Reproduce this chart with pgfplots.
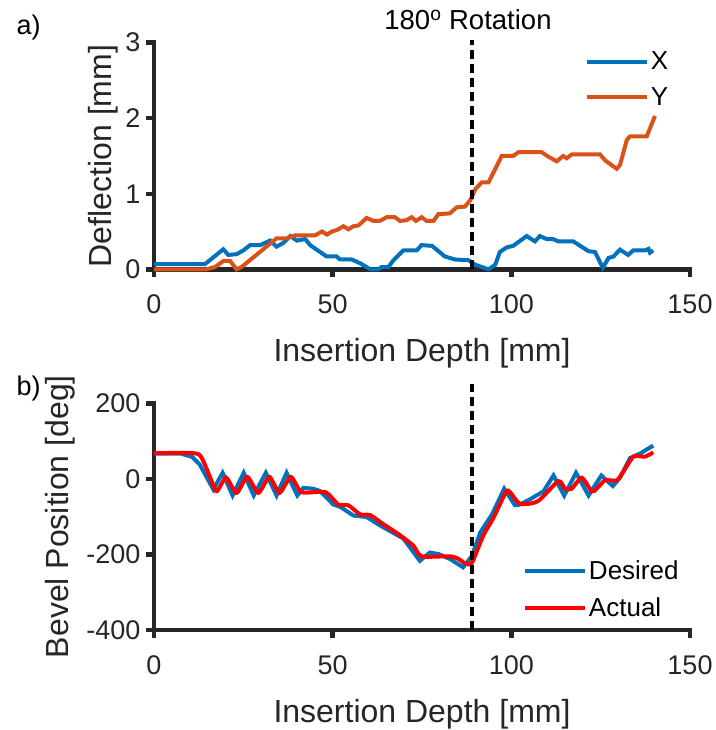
\documentclass[border=0pt]{standalone}
\usepackage{pgfplots}
\pgfplotsset{compat=1.18}
\usepackage{fontspec}
\setmainfont{Liberation Sans}
\definecolor{axgray}{RGB}{38,38,38}
\definecolor{mblue}{RGB}{0,114,189}
\definecolor{morange}{RGB}{217,83,25}
\definecolor{mred}{RGB}{255,0,0}
\pgfplotsset{
  myaxis/.style={
    anchor=south west, scale only axis, width=536pt,
    xmin=0, xmax=150, xtick={0,50,100,150},
    axis x line=bottom, axis y line=left,
    axis line style={-, line width=4.5pt, color=axgray, line cap=rect},
    tick align=outside, major tick length=8pt,
    every tick/.style={line width=4.5pt, color=axgray},
    tick label style={font=\fontsize{27}{32}\selectfont, text=axgray},
    xticklabel style={yshift=-14pt},
    yticklabel style={xshift=-2pt},
    /pgf/number format/assume math mode=true,
    label style={font=\fontsize{32}{38}\selectfont, text=axgray},
    clip=false,
    legend cell align=left,
    legend image code/.code={\draw[#1] (0pt,0pt) -- (60pt,0pt);},
    legend style={draw=none, fill=none, inner sep=0pt, outer sep=0pt,
      font=\fontsize{26}{30}\selectfont, row sep=12pt,
      nodes={inner sep=2pt}},
  }
}
\begin{document}
\begin{tikzpicture}
\useasboundingbox (0,0) rectangle (715pt,730pt);
% ---------- top axis ----------
\begin{axis}[myaxis, at={(154pt,460.7pt)}, height=226.6pt,
  ymin=0, ymax=3, ytick={0,1,2,3},
  xlabel={Insertion Depth [mm]}, ylabel={Deflection [mm]},
  xlabel style={at={(axis description cs:0.5,-0.406)}, anchor=base},
  ylabel style={at={(axis description cs:-0.0789,0.5)}, anchor=base, rotate=0},
  legend style={at={(axis description cs:0.804,0.968)}, anchor=north west},
]
\addplot[color=mblue, line width=4pt] coordinates {
(0,0.07)(14.3,0.07)(19.4,0.265)(20.8,0.19)(23.1,0.2)(25,0.25)(26.9,0.32)(29.7,0.32)(32.5,0.38)(34.3,0.3)(36.2,0.35)(38.1,0.44)(40,0.38)(42.3,0.40)(43.7,0.32)(48.3,0.17)(51.1,0.17)(52,0.13)(55.3,0.13)(57.7,0.08)(60.5,0)(62.8,0)(63.7,0.03)(65.6,0.03)(67,0.12)(69.8,0.25)(73.5,0.25)(74.9,0.32)(77.8,0.31)(81.4,0.17)(84.2,0.13)(88,0.12)(89.9,0.06)(93.6,0)(95.5,0.06)(96.8,0.23)(98.7,0.29)(100.5,0.31)(104.3,0.44)(106.6,0.37)(108,0.44)(109.9,0.40)(111.7,0.40)(113.1,0.37)(117.3,0.37)(121.6,0.24)(123.4,0.23)(125.6,0.02)(127.2,0.15)(128.6,0.17)(130.4,0.26)(132.7,0.19)(134.1,0.25)(137.4,0.25)(138.4,0.27)(138.8,0.22)(139.7,0.25)
};
\addlegendentry{X}
\addplot[color=morange, line width=4pt] coordinates {
(0,0)(14.7,0)(17.1,0.03)(19.4,0.11)(21.3,0.11)(23.1,0)(24.5,0.03)(34.3,0.41)(37.1,0.41)(39.5,0.45)(45.1,0.45)(47,0.5)(48.4,0.46)(49.8,0.5)(51.2,0.52)(53,0.57)(54.4,0.53)(55.8,0.57)(57.2,0.58)(59.5,0.68)(61.4,0.64)(63.2,0.64)(65.1,0.69)(67.4,0.69)(68.8,0.64)(70.7,0.65)(72.1,0.69)(73.3,0.64)(74.9,0.69)(76.3,0.64)(78.2,0.64)(79.6,0.73)(82.8,0.74)(84.7,0.82)(87,0.83)(88.6,0.92)(89.9,1.06)(91.7,1.15)(93.6,1.15)(97.3,1.50)(100.5,1.50)(102,1.55)(108.5,1.55)(110.4,1.49)(112.7,1.43)(114.5,1.5)(115.5,1.47)(116.9,1.52)(124.8,1.52)(126.3,1.44)(129.5,1.33)(130.4,1.38)(132.3,1.71)(133.2,1.76)(137.9,1.76)(140.2,2.03)
};
\addlegendentry{Y}
\addplot[black, line width=3.8pt, dash pattern=on 9pt off 5pt, forget plot] coordinates {(89,0)(89,3.03)};
\node[anchor=base, font=\fontsize{27.5}{32}\selectfont, text=black] at (axis description cs:0.5858,1.059) {180\textsuperscript{o} Rotation};
\node[anchor=base west, font=\fontsize{27}{32}\selectfont, text=black] at (axis description cs:-0.263,1.034) {a)};
\end{axis}
% ---------- bottom axis ----------
\begin{axis}[myaxis, at={(154pt,100pt)}, height=226.7pt,
  ymin=-400, ymax=200, ytick={-400,-200,0,200},
  xlabel={Insertion Depth [mm]}, ylabel={Bevel Position [deg]},
  xlabel style={at={(axis description cs:0.5,-0.406)}, anchor=base},
  ylabel style={at={(axis description cs:-0.1599,0.5)}, anchor=base, rotate=0},
  legend style={at={(axis description cs:0.6884,0.313)}, anchor=north west},
]
\addplot[color=mblue, line width=4pt] coordinates {
(0,67)(7.5,67)(10.7,58)(12.8,38)(16.6,-28)(19.2,16)(22,-44)(25.1,16)(27.9,-44)(31.3,16)(34.3,-44)(37.1,16)(40.1,-44)(41.8,-24)(44.5,-26)(46.4,-32)(50.2,-68)(52.1,-74)(55.8,-97)(59.5,-101)(63.2,-123)(69.8,-158)(74.4,-217)(77.2,-195)(79.6,-199)(82.8,-212)(86.5,-234)(88.9,-205)(91.3,-142)(94.6,-94)(98,-26)(101,-70)(102.4,-68)(105.6,-52)(109,-33)(111.8,9)(114.8,-44)(118.1,16)(121.6,-44)(125.2,9)(128.4,-19)(130.4,3)(133.2,55)(136,67)(139.7,88)
};
\addlegendentry{Desired}
\addplot[color=mred, line width=4pt, smooth, tension=0.4] coordinates {
(0,68)(11,68)(13.4,55)(17.1,-28)(18,-28)(20.2,3)(23.1,-37)(26.1,5)(29.2,-37)(32.3,5)(35.1,-37)(38.3,5)(41.3,-35)(47.9,-35)(51.6,-68)(54.4,-70)(57.7,-94)(60.5,-96)(64.2,-120)(68.8,-149)(72.6,-177)(74.9,-205)(82.8,-205)(85.2,-212)(87,-223)(88.9,-223)(92.2,-149)(95,-103)(98.5,-35)(99.6,-35)(102.2,-65)(105.6,-65)(108,-55)(113.2,-6)(115,-26)(116.9,-26)(119.7,3)(122.5,-33)(123.9,-26)(126.2,-4)(129.5,-4)(131.4,20)(134.2,59)(137.4,59)(139.7,70)
};
\addlegendentry{Actual}
\addplot[black, line width=3.8pt, dash pattern=on 9pt off 5pt, forget plot] coordinates {(89,-400)(89,250)};
\node[anchor=base west, font=\fontsize{27}{32}\selectfont, text=black] at (axis description cs:-0.263,1.034) {b)};
\end{axis}
\end{tikzpicture}
\end{document}
